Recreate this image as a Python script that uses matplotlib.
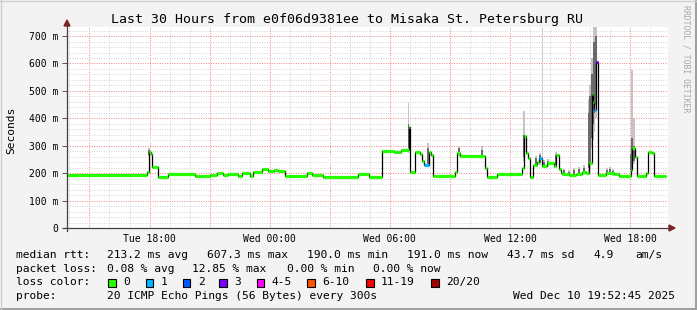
import matplotlib
matplotlib.use("Agg")
import matplotlib.pyplot as plt
from matplotlib.patches import Rectangle, Polygon
from matplotlib.lines import Line2D

# median rtt steps: start hour (since Tue 00:00), median in ms, lost pings
seg_t = [13.88, 17.85, 17.97, 18.07, 18.13, 18.40, 18.90, 20.27, 21.02, 21.35,
         21.68, 21.93, 22.43, 22.60, 23.02, 23.18, 23.60, 23.93, 24.20, 24.40,
         24.77, 25.85, 26.10, 26.68, 28.43, 28.93, 29.60, 30.20, 30.55, 30.93,
         31.02, 31.27, 31.50, 31.60, 31.70, 31.93, 32.03, 32.13, 33.27, 33.35,
         33.52, 34.77, 34.85, 35.35, 36.60, 36.68, 36.80, 36.90, 36.97, 37.13,
         37.35, 37.45, 37.60, 37.85, 38.18, 38.27, 38.43, 38.52, 38.60, 38.93,
         39.27, 39.60, 39.77, 39.93, 40.07, 40.13, 40.20, 40.27, 40.38, 40.77,
         41.18, 41.43, 42.02, 42.10, 42.23, 42.35, 42.80, 42.90, 43.07, 43.18]
seg_end = 43.77
median_ms = [193, 203, 276, 269, 221, 187, 197, 191, 193, 201,
             193, 197, 189, 200, 191, 205, 214, 208, 212, 208,
             190, 199, 193, 187, 197, 187, 281, 278, 283, 369,
             205, 276, 270, 245, 230, 278, 268, 188, 205, 272,
             264, 218, 187, 197, 218, 336, 272, 254, 187, 230,
             240, 254, 226, 236, 226, 266, 215, 199, 197, 193,
             197, 205, 199, 236, 489, 460, 430, 606, 193, 199,
             197, 191, 211, 290, 260, 191, 199, 278, 273, 191]
loss = [0] * 34 + [1] + [0] * 16 + [1] + [0] * 14 + [1, 3] + [0] * 12

# smoke (spread of the 20 pings) where it is visible
smoke_t = [17.97, 30.93, 31.90, 33.45, 34.60, 36.70, 37.30, 37.50, 37.70, 37.90,
           38.30, 38.70, 38.95, 39.20, 39.45, 39.70, 39.93, 40.00, 40.07, 40.13,
           40.20, 40.27, 40.85, 41.00, 41.15, 42.02, 42.10, 42.20]
smoke_lo = [262, 275, 222, 262, 258, 245, 228, 228, 218, 222,
            218, 192, 190, 190, 193, 195, 205, 215, 290, 320,
            350, 400, 192, 193, 190, 200, 240, 235]
smoke_hi = [292, 457, 310, 298, 298, 428, 262, 272, 248, 252,
            278, 216, 212, 218, 222, 228, 470, 520, 620, 580,
            733, 733, 218, 222, 215, 300, 576, 400]
core_lo = [268, 290, 232, 266, 262, 260, 232, 236, 222, 228,
           226, 195, 194, 194, 196, 198, 220, 240, 330, 380,
           420, 450, 195, 196, 194, 210, 250, 245]
core_hi = [284, 380, 290, 290, 285, 340, 255, 265, 240, 244,
           268, 210, 206, 210, 214, 218, 420, 480, 560, 520,
           680, 700, 212, 214, 208, 270, 330, 300]
outlier_t = [37.60]
outlier_lo = [254]
outlier_hi = [733]

loss_labels = ["0", "1", "2", "3", "4-5", "6-10", "11-19", "20/20"]
loss_colors = ["#26ff00", "#00b8ff", "#0059ff", "#7e00ff", "#ff00ff",
               "#ff5500", "#ff0000", "#a10000"]

x_ticks = [18, 24, 30, 36, 42]
x_labels = ["Tue 18:00", "Wed 00:00", "Wed 06:00", "Wed 12:00", "Wed 18:00"]
y_ticks = [0, 100, 200, 300, 400, 500, 600, 700]
y_labels = ["0", "100 m", "200 m", "300 m", "400 m", "500 m", "600 m", "700 m"]

W, H = 697, 310
MONO = "DejaVu Sans Mono"
fig = plt.figure(figsize=(W / 100, H / 100), dpi=100, facecolor="#f3f3f3")

def fx(px):
    return px / W

def fy(py):
    return 1 - py / H

L, R, T, B = 67, 668, 27, 228
ax = fig.add_axes([fx(L), fy(B), (R - L) / W, (B - T) / H])
ax.set_facecolor("white")
ax.set_xlim(13.88, 43.88)
ax.set_ylim(0, 733)

# grid
dots = (0, (1, 1.5))
for h in range(14, 44):
    col = "#f08080" if h % 3 == 0 else "#d4d4d4"
    ax.axvline(h, color=col, lw=0.7, ls=dots, zorder=1)
for v in range(20, 733, 20):
    col = "#f08080" if v % 100 == 0 else "#d4d4d4"
    ax.axhline(v, color=col, lw=0.7, ls=dots, zorder=1)

# smoke
ax.bar(smoke_t, [h - l for h, l in zip(smoke_hi, smoke_lo)], bottom=smoke_lo,
       width=0.085, color="#c4c4c4", lw=0, zorder=2)
ax.bar(smoke_t, [h - l for h, l in zip(core_hi, core_lo)], bottom=core_lo,
       width=0.085, color="#6a6a6a", lw=0, zorder=2)
ax.vlines(outlier_t, outlier_lo, outlier_hi, color="#d0d0d0", lw=0.8, zorder=2)

# median
edges = seg_t + [seg_end]
ax.stairs(median_ms, edges, color="black", lw=0.9, baseline=None, zorder=3)
ax.hlines(median_ms, seg_t, edges[1:], colors=[loss_colors[k] for k in loss],
          lw=2.3, zorder=4)

for s in ax.spines.values():
    s.set_visible(False)
ax.set_xticks(x_ticks)
ax.set_xticklabels(x_labels, fontfamily=MONO, fontsize=7)
ax.set_yticks(y_ticks)
ax.set_yticklabels(y_labels, fontfamily=MONO, fontsize=7)
ax.tick_params(axis="y", length=3.5, width=0.7, pad=2.5, color="#555555")
ax.tick_params(axis="x", length=0, pad=4)

# axes lines with arrows
fig.add_artist(Line2D([fx(L), fx(L)], [fy(B + 3), fy(24)], color="#404040", lw=0.9))
fig.add_artist(Line2D([fx(L - 4), fx(R + 2)], [fy(B), fy(B)], color="#404040", lw=0.9))
fig.add_artist(Polygon([[fx(L - 3), fy(26)], [fx(L + 3), fy(26)], [fx(L), fy(20)]],
                       closed=True, color="#802020"))
fig.add_artist(Polygon([[fx(R + 1), fy(B - 3)], [fx(R + 1), fy(B + 3)], [fx(R + 7), fy(B)]],
                       closed=True, color="#802020"))

fig.text(fx(347), fy(19), "Last 30 Hours from e0f06d9381ee to Misaka St. Petersburg RU",
         fontfamily=MONO, fontsize=9.55, ha="center", va="center")
fig.text(fx(11), fy(130), "Seconds", fontfamily=MONO, fontsize=8.1, rotation=90,
         ha="center", va="center")
fig.text(fx(686), fy(5), "RRDTOOL / TOBI OETIKER", fontfamily=MONO, fontsize=5.9,
         rotation=270, ha="center", va="top", color="#a8a8a8")

rows = [
    (255, [(16, "median rtt:"), (107, "213.2 ms avg"), (206.7, "607.3 ms max"),
           (306.7, "190.0 ms min"), (407.3, "191.0 ms now"), (506.7, "43.7 ms sd"),
           (593.3, "4.9"), (635, "am/s")]),
    (269, [(16, "packet loss:"), (107, "0.08 % avg"), (191.7, "12.85 % max"),
           (286.7, "0.00 % min"), (373.3, "0.00 % now")]),
    (296, [(16, "probe:"), (107, "20 ICMP Echo Pings (56 Bytes) every 300s"),
           (513.3, "Wed Dec 10 19:52:45 2025")]),
]
for y, items in rows:
    for x, s in items:
        fig.text(fx(x), fy(y), s, fontfamily=MONO, fontsize=8.1, ha="left", va="center")

fig.text(fx(16), fy(282), "loss color:", fontfamily=MONO, fontsize=8.1, ha="left", va="center")
box_x = [108.3, 145.7, 182.7, 219.3, 256.7, 307.3, 366.0, 431.0]
for bx, lab, c in zip(box_x, loss_labels, loss_colors):
    fig.add_artist(Rectangle((fx(bx), fy(286.5)), 7.5 / W, 8 / H, facecolor=c,
                             edgecolor="black", lw=0.8))
    fig.text(fx(bx + 15), fy(282), lab, fontfamily=MONO, fontsize=8.1, ha="left", va="center")

# frame
fig.add_artist(Line2D([0, 1], [fy(308.5), fy(308.5)], color="#a0a0a0", lw=2.2))
fig.add_artist(Line2D([fx(695.5), fx(695.5)], [0, 1], color="#a0a0a0", lw=2.2))
fig.add_artist(Line2D([0, 1], [fy(0.7), fy(0.7)], color="#d0d0d0", lw=1))
fig.add_artist(Line2D([fx(0.7), fx(0.7)], [0, 1], color="#d0d0d0", lw=1))

fig.savefig("out.png", dpi=100, facecolor=fig.get_facecolor())
